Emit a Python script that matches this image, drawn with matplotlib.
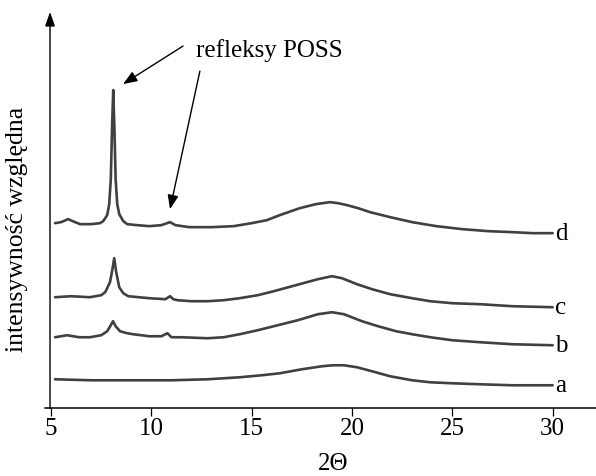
import matplotlib
matplotlib.use("Agg")
import matplotlib.pyplot as plt

plt.rcParams['font.family'] = ['Liberation Serif', 'DejaVu Serif']
plt.rcParams['font.size'] = 18

# --- data (relative intensity, arbitrary units) ---
x_d = [5.2, 5.5, 5.85, 6.2, 6.45, 7.0, 7.44, 7.6, 7.8, 7.9, 7.98, 8.04, 8.10, 8.16, 8.22, 8.3, 8.4,
       8.6, 8.8, 9.3, 9.9, 10.5, 10.93, 11.2, 11.9, 13.0, 14.1, 15.0, 15.76, 16.4, 17.4, 18.2, 18.9,
       19.3, 19.75, 20.3, 20.9, 21.9, 23.0, 24.2, 25.5, 26.8, 28.0, 29.0, 30.0]
i_d = [185, 186, 189, 186, 184, 184, 185, 187, 193, 204, 229, 279, 318, 279, 229, 204, 194,
       187, 184, 183, 182, 183, 186, 183, 181, 181, 182, 185, 188, 193, 200, 204, 206,
       205, 203, 200, 196, 191, 186, 182, 179, 177, 176, 175, 175]

x_c = [5.2, 6.0, 6.94, 7.5, 7.7, 7.94, 8.06, 8.15, 8.24, 8.4, 8.6, 8.85, 9.9, 10.7, 10.93, 11.1,
       11.3, 12.0, 12.8, 13.6, 14.4, 15.3, 16.1, 17.2, 18.3, 19.0, 19.5, 20.25, 21.0, 21.9, 23.0,
       23.9, 25.0, 26.4, 28.0, 30.0]
i_c = [111, 112, 111, 113, 116, 126, 139, 150, 137, 121, 115, 112, 110, 109, 112, 109,
       108, 107, 107, 108, 110, 113, 117, 123, 129, 132, 130, 124, 119, 114, 110,
       107, 105, 104, 102, 101]

x_b = [5.2, 5.8, 6.4, 6.94, 7.5, 7.8, 7.95, 8.09, 8.22, 8.44, 8.8, 9.1, 9.9, 10.5, 10.8, 11.0,
       11.5, 12.8, 13.6, 14.4, 15.3, 16.1, 17.3, 18.3, 19.0, 19.6, 20.5, 21.3, 22.2, 23.0, 23.9,
       25.0, 26.4, 28.0, 30.0]
i_b = [71, 73, 71, 71, 73, 77, 82, 87, 82, 77, 75, 74, 72, 72, 75, 71,
       71, 70, 71, 74, 78, 82, 88, 94, 96, 94, 87, 82, 77, 74, 71,
       68, 66, 64, 63]

x_a = [5.2, 7.0, 9.4, 11.0, 12.8, 14.4, 15.5, 16.4, 17.5, 18.5, 19.05, 19.6, 20.25, 21.0, 21.9,
       23.0, 23.9, 25.0, 26.4, 28.0, 30.0]
i_a = [29, 28, 28, 28, 29, 31, 33, 35, 39, 42, 43, 43, 41, 37, 32,
       28, 26, 25, 24, 23, 23]

series = [("a", x_a, i_a), ("b", x_b, i_b), ("c", x_c, i_c), ("d", x_d, i_d)]
xticks = [5, 10, 15, 20, 25, 30]
xlabel = "2\u0398"
ylabel = "intensywno\u015b\u0107 wzgl\u0119dna"
note = "refleksy POSS"

# --- figure ---
fig = plt.figure(figsize=(5.96, 4.77), dpi=100)
ax = fig.add_axes([45 / 596, 1 - 409.3 / 477, 1 - 45 / 596, (409.3 - 13) / 477])
ax.set_xlim(4.70, 32.16)
ax.set_ylim(0, 396)

line_color = "#404040"
for name, xs, ys in series:
    ax.plot(xs, ys, color=line_color, lw=1.9, solid_joinstyle='round', solid_capstyle='round')
    ax.text(30.1, ys[-1], name, ha='left', va='center', fontsize=18)

for s in ['top', 'right', 'left']:
    ax.spines[s].set_visible(False)
ax.spines['bottom'].set_linewidth(1.1)
ax.set_yticks([])
ax.set_xticks(xticks)
ax.tick_params(axis='x', direction='out', length=6, width=0.9, pad=0.5, labelsize=18)

# y axis with arrow
ax.annotate('', xy=(4.95, 396), xytext=(4.95, 0), xycoords='data', textcoords='data',
            arrowprops=dict(arrowstyle='-|>,head_length=0.85,head_width=0.3', mutation_scale=10,
                            lw=1.0, color='black', shrinkA=0, shrinkB=0), annotation_clip=False)

# annotation
ax.text(12.22, 352, note, ha='left', va='baseline', fontsize=18)
arrow_kw = dict(arrowstyle='-|>,head_length=0.85,head_width=0.33', mutation_scale=10,
                lw=1.0, color='black', shrinkA=0, shrinkB=0)
ax.annotate('', xy=(8.59, 324), xytext=(11.58, 362), arrowprops=arrow_kw)
ax.annotate('', xy=(10.93, 199), xytext=(12.42, 337), arrowprops=arrow_kw)

fig.text(333 / 596, 1 - 464 / 477, xlabel, ha='center', va='center', fontsize=18)
fig.text(17 / 596, 1 - 229 / 477, ylabel, ha='center', va='center', rotation=90, fontsize=18.5)

fig.savefig("out.png", dpi=100)
